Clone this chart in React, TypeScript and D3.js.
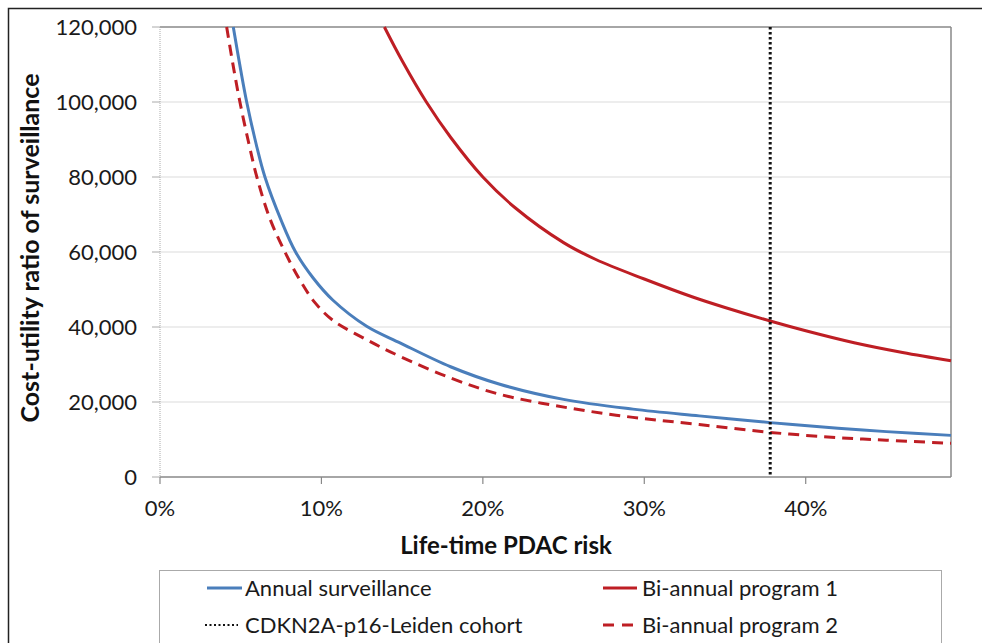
import React from 'react';
import * as d3 from 'd3';

// life-time risk (%) and cost-utility ratio
const annualRisk = [4.54, 5.0, 5.37, 6.0, 6.5, 7.5, 8.4, 9.5, 10.7, 12.8, 14.9, 18, 21, 25, 29.3, 33.4, 37.8, 42, 45, 49];
const annualCost = [120000, 108500, 100000, 88000, 80000, 68500, 60000, 53000, 47200, 40200, 35700, 29400, 24800, 20700, 18100, 16300, 14500, 13000, 12100, 11100];

const prog1Risk = [13.9, 15, 16.5, 18, 20, 22, 25, 27, 30, 33, 35, 37.8, 40, 43, 46, 49];
const prog1Cost = [120000, 111000, 100000, 90600, 80000, 71800, 62500, 58000, 52800, 48000, 45200, 41600, 39000, 35800, 33200, 31000];

const prog2Risk = [4.13, 4.5, 4.95, 5.5, 6.0, 6.8, 7.74, 8.67, 9.6, 10.7, 12.8, 14.9, 18, 21, 25.2, 29.3, 33.4, 37.8, 42, 45, 49];
const prog2Cost = [120000, 110500, 100000, 89000, 80000, 69000, 60000, 52500, 46500, 41800, 36600, 32100, 26400, 22100, 18500, 15900, 14000, 11900, 10500, 9800, 9000];

const cohortRisk = 37.8;

const xTicks = [0, 10, 20, 30, 40];
const yTicks = [0, 20000, 40000, 60000, 80000, 100000, 120000];

const FONT = 'Lato, Carlito, Calibri, sans-serif';
const BLUE = '#4a7ebb';
const RED = '#be1e24';

const zip = (xs: number[], ys: number[]) => xs.map((x, i) => ({ x, y: ys[i] }));

export default function App() {
  const W = 982;
  const H = 643;
  const m = { l: 160, r: 951, t: 27, b: 477 };

  const x = d3.scaleLinear().domain([0, 49]).range([m.l, m.r]);
  const y = d3.scaleLinear().domain([0, 120000]).range([m.b, m.t]);

  const line = d3
    .line<{ x: number; y: number }>()
    .x(d => x(d.x))
    .y(d => y(d.y))
    .curve(d3.curveCatmullRom.alpha(0.5));

  const fmt = d3.format(',');

  return (
    <svg
      width={W}
      height={H}
      style={{ position: 'fixed', left: 0, top: 0, background: '#fff' }}
      fontFamily={FONT}
    >
      {/* outer frame */}
      <rect x={8.5} y={8.5} width={W} height={H} fill="none" stroke="#222" strokeWidth={1.5} />

      {/* gridlines */}
      {yTicks.filter(t => t > 0 && t < 120000).map(t => (
        <line key={t} x1={m.l} x2={m.r} y1={y(t)} y2={y(t)} stroke="#dcdcdc" strokeWidth={1.2} />
      ))}

      {/* plot frame */}
      <line x1={m.l} x2={m.r} y1={m.t} y2={m.t} stroke="#888" strokeWidth={1.5} />
      <line x1={m.r} x2={m.r} y1={m.t} y2={m.b} stroke="#888" strokeWidth={1.5} />
      <line x1={m.l} x2={m.l} y1={m.t} y2={m.b} stroke="#aaa" strokeWidth={1} strokeDasharray="1,1" />
      <line x1={m.l} x2={m.r} y1={m.b} y2={m.b} stroke="#888" strokeWidth={1.5} />

      {/* y axis */}
      {yTicks.map(t => (
        <g key={t}>
          <line x1={m.l - 8} x2={m.l} y1={y(t)} y2={y(t)} stroke="#aaa" strokeWidth={1} />
          <text x={137} y={y(t)} dy="0.36em" textAnchor="end" fontSize={22} fill="#1a1a1a">
            {fmt(t)}
          </text>
        </g>
      ))}

      {/* x axis */}
      {xTicks.map(t => (
        <g key={t}>
          <line x1={x(t)} x2={x(t)} y1={m.b} y2={m.b + 7} stroke="#888" strokeWidth={1.2} />
          <text x={x(t)} y={516} textAnchor="middle" fontSize={22} fill="#1a1a1a">
            {t}%
          </text>
        </g>
      ))}

      {/* series */}
      <path d={line(zip(annualRisk, annualCost)) || ''} fill="none" stroke={BLUE} strokeWidth={3} />
      <path d={line(zip(prog1Risk, prog1Cost)) || ''} fill="none" stroke={RED} strokeWidth={3} />
      <path
        d={line(zip(prog2Risk, prog2Cost)) || ''}
        fill="none"
        stroke={RED}
        strokeWidth={3}
        strokeDasharray="11,7"
      />
      <line
        x1={x(cohortRisk)}
        x2={x(cohortRisk)}
        y1={m.t}
        y2={m.b}
        stroke="#111"
        strokeWidth={3}
        strokeDasharray="2.5,2.5"
      />

      {/* axis titles */}
      <text x={506} y={554} textAnchor="middle" fontSize={24} fontWeight="bold" fill="#111">
        Life-time PDAC risk
      </text>
      <text
        transform="translate(39, 248) rotate(-90)"
        textAnchor="middle"
        fontSize={25}
        fontWeight="bold"
        fill="#111"
      >
        Cost-utility ratio of surveillance
      </text>

      {/* legend */}
      <rect x={159.5} y={570.5} width={782} height={100} fill="#fff" stroke="#aaa" strokeWidth={1} />
      <line x1={207} x2={242} y1={588} y2={588} stroke={BLUE} strokeWidth={3} />
      <text x={245} y={596} fontSize={22} fill="#1a1a1a">Annual surveillance</text>
      <line x1={205} x2={238} y1={625} y2={625} stroke="#111" strokeWidth={2} strokeDasharray="2,2.5" />
      <text x={245} y={633} fontSize={22} fill="#1a1a1a">CDKN2A-p16-Leiden cohort</text>
      <line x1={603} x2={637} y1={588} y2={588} stroke={RED} strokeWidth={3} />
      <text x={642} y={596} fontSize={22} fill="#1a1a1a">Bi-annual program 1</text>
      <line x1={603} x2={637} y1={625} y2={625} stroke={RED} strokeWidth={3} strokeDasharray="11,8" />
      <text x={642} y={633} fontSize={22} fill="#1a1a1a">Bi-annual program 2</text>
    </svg>
  );
}
